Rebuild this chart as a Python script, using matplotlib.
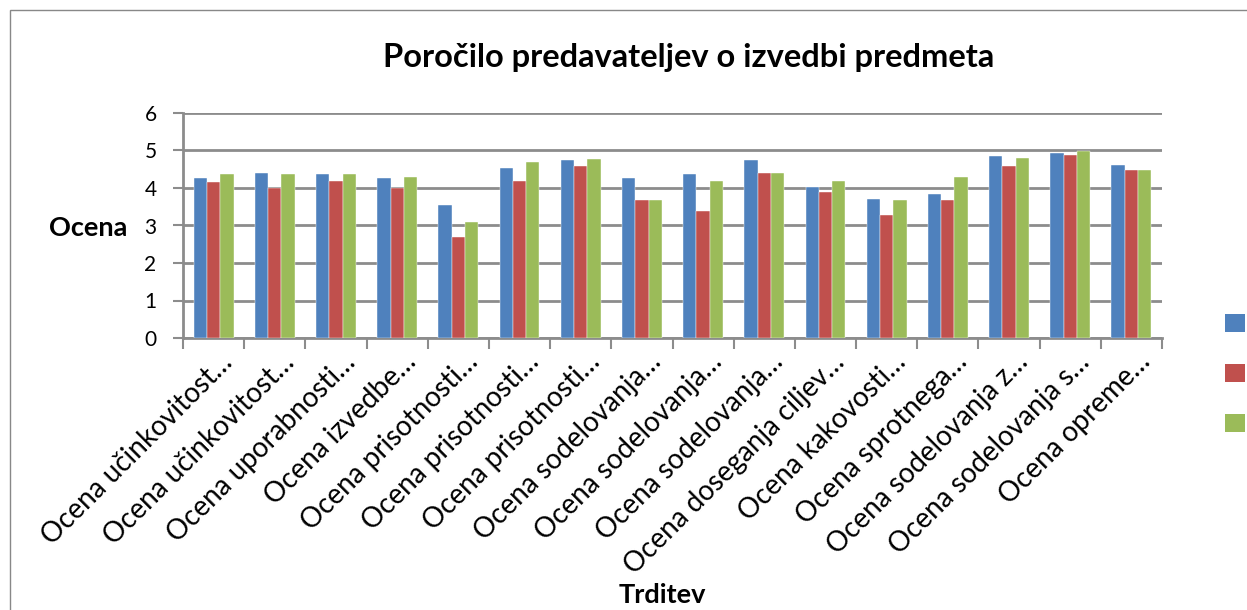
import matplotlib
matplotlib.use("Agg")
import matplotlib.pyplot as plt
import matplotlib.transforms as mtransforms
import numpy as np
from matplotlib.patches import Rectangle, Patch

categories = [
    "Ocena učinkovitost…", "Ocena učinkovitost…", "Ocena uporabnosti…",
    "Ocena izvedbe…", "Ocena prisotnosti…", "Ocena prisotnosti…",
    "Ocena prisotnosti…", "Ocena sodelovanja…", "Ocena sodelovanja…",
    "Ocena sodelovanja…", "Ocena doseganja ciljev…", "Ocena kakovosti…",
    "Ocena sprotnega…", "Ocena sodelovanja z…", "Ocena sodelovanja s…",
    "Ocena opreme…",
]
series_1 = [4.26, 4.40, 4.38, 4.26, 3.54, 4.52, 4.74, 4.26, 4.37, 4.74, 4.03, 3.70, 3.85, 4.86, 4.92, 4.61]
series_2 = [4.15, 4.01, 4.19, 4.00, 2.69, 4.19, 4.58, 3.69, 3.39, 4.39, 3.88, 3.28, 3.69, 4.59, 4.88, 4.49]
series_3 = [4.38, 4.38, 4.38, 4.28, 3.08, 4.68, 4.78, 3.69, 4.19, 4.39, 4.19, 3.69, 4.28, 4.79, 4.99, 4.49]
series_labels = ["", "", ""]
yticks = [0, 1, 2, 3, 4, 5, 6]

colors = ["#4F81BD", "#C0504D", "#9BBB59"]
FONT = "Lato"
W, H = 1247, 610

fig = plt.figure(figsize=(W / 100, H / 100), dpi=100)
ax = fig.add_axes([183 / W, 1 - 338 / H, (1162 - 183) / W, (338 - 113) / H])

# chart border
fig.patches.append(Rectangle((10 / W, -0.1), 1.2, 1 - 10 / H + 0.1, transform=fig.transFigure,
                             fill=False, edgecolor="#888888", linewidth=1.0))

x = np.arange(len(categories))
bw = 0.217
grid_c = "#8C8C8C"
for i, (vals, c) in enumerate(zip([series_1, series_2, series_3], colors)):
    ax.bar(x + (i - 1) * bw, vals, width=bw, color=c, zorder=3,
           edgecolor="white", linewidth=0.3, label=series_labels[i])

ax.set_xlim(-0.5, len(categories) - 0.5)
ax.set_ylim(0, 6)
ax.set_yticks(yticks)
ax.set_yticklabels([str(t) for t in yticks], fontsize=15, family=FONT)
ax.yaxis.grid(True, color=grid_c, linewidth=2.0, zorder=0)
ax.set_axisbelow(True)

# group-boundary tick marks
ax.set_xticks(np.arange(len(categories) + 1) - 0.5, minor=False)
ax.set_xticklabels([])
ax.tick_params(axis="x", which="major", length=8, width=1.5, color=grid_c, direction="out")
ax.set_xticks(x, minor=True)
ax.set_xticklabels(categories, minor=True, rotation=45, ha="right", va="center",
                   rotation_mode="anchor", fontsize=20, family=FONT)
ax.tick_params(axis="x", which="minor", length=0, pad=0)
offset = mtransforms.ScaledTranslation(15 / 100, -20 / 100, fig.dpi_scale_trans)
for lab in ax.get_xticklabels(minor=True):
    lab.set_transform(lab.get_transform() + offset)
ax.tick_params(axis="y", length=7, width=1.5, color=grid_c, pad=12)

for s in ["top", "right"]:
    ax.spines[s].set_visible(False)
for s in ["left", "bottom"]:
    ax.spines[s].set_color(grid_c)
    ax.spines[s].set_linewidth(2.0)

fig.text(689 / W, 1 - 57 / H, "Poročilo predavateljev o izvedbi predmeta",
         ha="center", va="center", fontsize=23.5, fontweight="bold", family=FONT)
fig.text(127 / W, 1 - 228 / H, "Ocena", ha="right", va="center",
         fontsize=19.5, fontweight="bold", family=FONT)
fig.text(662 / W, 1 - 607 / H, "Trditev", ha="center", va="bottom",
         fontsize=19.5, fontweight="bold", family=FONT)

handles = [Patch(facecolor=c, edgecolor="none") for c in colors]
fig.legend(handles, series_labels, loc="upper left",
           bbox_to_anchor=(1215 / W, 1 - 304 / H), frameon=False,
           handlelength=1.05, handleheight=1.05, labelspacing=1.56, fontsize=14,
           borderpad=0, handletextpad=0.3)

fig.savefig("out.png", dpi=100)
